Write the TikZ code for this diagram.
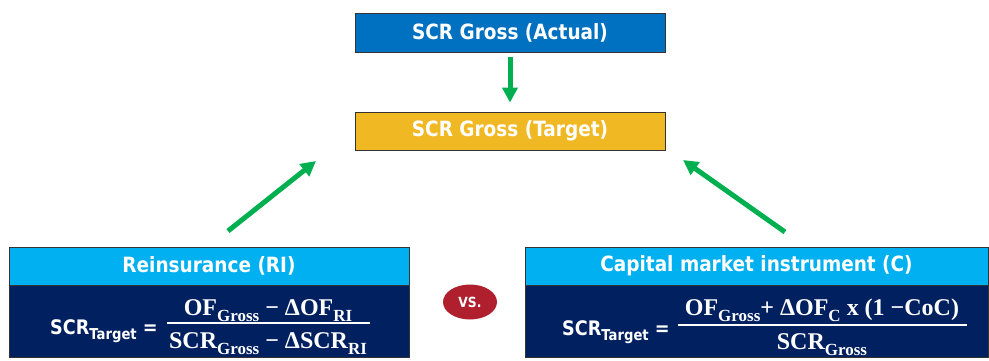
\documentclass[tikz,border=0pt]{standalone}
\usepackage{fontspec}
\setsansfont{DejaVu Sans}[FakeStretch=0.88]
\newfontfamily\fracfont{Liberation Serif}
\usetikzlibrary{arrows.meta,shapes.geometric}

\definecolor{actualblue}{HTML}{0070C0}
\definecolor{targetgold}{HTML}{F0B823}
\definecolor{headblue}{HTML}{00B0F0}
\definecolor{bodynavy}{HTML}{002060}
\definecolor{arrowgreen}{HTML}{00B050}
\definecolor{vsred}{HTML}{B01F2D}

\newcommand{\lowsub}[2][15]{\raisebox{-0.28em}{\fontsize{#1}{#1}\selectfont #2}}

\begin{document}
\begin{tikzpicture}
            [
            x=1pt,y=-1pt,
            box/.style={draw=black!80,line width=0.8pt,inner sep=0pt,
                text=white,font={\sffamily\bfseries\fontsize{21}{25}\selectfont}},
            topbox/.style={box,fill=actualblue,minimum width=310pt,minimum height=39pt},
            goalbox/.style={box,fill=targetgold,minimum width=310pt,minimum height=38pt},
            headbox/.style={box,fill=headblue,minimum height=38pt},
            bodybox/.style={box,fill=bodynavy,minimum height=72pt,anchor=north},
            formula/.style={inner sep=0pt,text=white,
                font={\sffamily\bfseries\fontsize{20}{24}\selectfont}},
            fracpart/.style={inner sep=0pt,text=white,
                font={\fracfont\bfseries\fontsize{24}{28}\selectfont}},
            fracbar/.style={white,line width=1.8pt},
            greenarrow/.style={arrowgreen,line width=5pt,
                -{Triangle[length=15pt,width=15pt]}},
            vsnode/.style={ellipse,fill=vsred,minimum width=54pt,minimum height=35pt,
                inner sep=0pt,text=white,font={\sffamily\bfseries\fontsize{14}{16}\selectfont}},
            ]
            \useasboundingbox (0,0) rectangle (989,360);
            \fill[white] (0,0) rectangle (989,360);
            \clip (0,0) rectangle (989,360);

            % Gross SCR
            \node[topbox] (actual) at (510,32.5) {SCR Gross (Actual)};
            \node[goalbox] (target) at (510,131) {SCR Gross (Target)};
            \draw[greenarrow,shorten <=5pt,shorten >=9pt] (actual) -- (target);

            % Reinsurance
            \node[headbox,minimum width=400pt] (rihead) at (209,266) {Reinsurance (RI)};
            \node[bodybox,minimum width=400pt] (ribody) at (rihead.south) {};
            \node[formula,anchor=base west] (rilhs) at (50,334) {SCR\lowsub{Target} =};
            \node[fracpart,anchor=base] (rinum) at (268,315) {OF\lowsub[17]{Gross} − ΔOF\lowsub[17]{RI}};
            \draw[fracbar] (167,323) -- (370,323);
            \node[fracpart,anchor=base] (riden) at (268,348) {SCR\lowsub[17]{Gross} − ΔSCR\lowsub[17]{RI}};

            % Capital market instrument
            \node[headbox,minimum width=463pt] (cmhead) at (756.5,266) {Capital market instrument (C)};
            \node[bodybox,minimum width=463pt] (cmbody) at (cmhead.south) {};
            \node[formula,anchor=base west] (cmlhs) at (562,335) {SCR\lowsub{Target} =};
            \node[fracpart,anchor=base] (cmnum) at (822,315) {OF\lowsub[17]{Gross}+ ΔOF\lowsub[17]{C} x (1 −CoC)};
            \draw[fracbar] (678,325) -- (967,325);
            \node[fracpart,anchor=base] (cmden) at (822,349) {SCR\lowsub[17]{Gross}};

            % Versus
            \node[vsnode] (vs) at (470,302) {VS.};

            % Arrows to target
            \coordinate (ritail) at (228,231);
            \coordinate (ritip) at (316,161);
            \coordinate (cmtail) at (785,232);
            \coordinate (cmtip) at (683,160);
            \draw[greenarrow] (ritail) -- (ritip);
            \draw[greenarrow] (cmtail) -- (cmtip);

        \end{tikzpicture}
\end{document}
